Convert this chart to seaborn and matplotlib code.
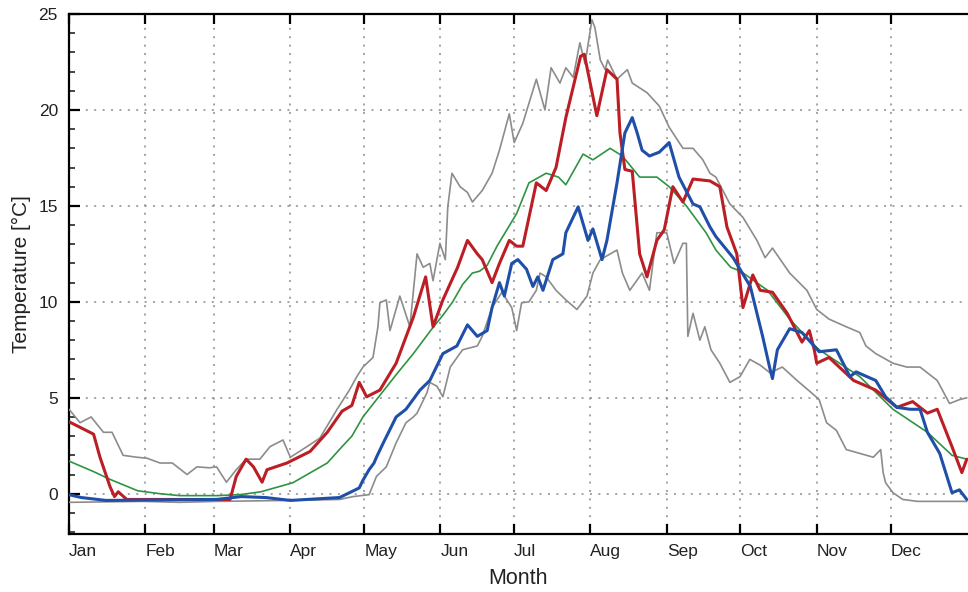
import matplotlib
matplotlib.use("Agg")
import matplotlib.pyplot as plt
from matplotlib.ticker import MultipleLocator, FixedLocator
import numpy as np
import pandas as pd
import seaborn as sns

# ---------------- data ----------------
months = ["Jan", "Feb", "Mar", "Apr", "May", "Jun", "Jul", "Aug", "Sep", "Oct", "Nov", "Dec"]
month_start = [0, 31, 59, 90, 120, 151, 181, 212, 243, 273, 304, 334]

# upper envelope (grey)
upper_pts = [(0, 4.4), (4.5, 3.7), (9, 4.0), (14, 3.2), (17.5, 3.2), (22, 2.0), (27.6, 1.9), (31.7, 1.85),
             (37, 1.6), (42, 1.6), (48, 1.0), (52, 1.4), (57, 1.35), (60, 1.4), (64, 0.6), (68, 1.25),
             (72, 1.8), (77.6, 1.8), (81.7, 2.45), (87, 2.8), (90, 1.9), (96.7, 2.45), (102, 2.9),
             (109, 4.4), (114, 5.4), (117, 6.1), (119.5, 6.6), (123.6, 7.1), (125.6, 8.7), (126.4, 9.95),
             (129, 10.1), (130.5, 8.5), (134.5, 10.3), (138.6, 8.7), (141.5, 12.5), (144, 11.8),
             (146.7, 12.0), (148, 11.1), (150.8, 13.05), (153, 12.2), (154, 14.95), (155.7, 16.7),
             (159, 16.0), (162, 15.7), (164, 15.2), (168, 15.8), (172, 16.7), (175, 17.9), (179, 19.8),
             (181, 18.3), (184.5, 19.3), (190, 21.6), (193.5, 20.0), (196, 22.2), (199.6, 21.4),
             (202, 22.2), (205, 21.7), (207.7, 23.5), (209.8, 22.4), (212.6, 24.7), (213.8, 24.3),
             (216, 22.6), (218, 22.1), (219, 22.6), (222.8, 21.6), (227, 22.1), (229, 21.4), (235, 20.9),
             (240, 20.2), (244, 19.1), (249.6, 18.0), (253.7, 18.0), (257.7, 17.4), (260.6, 16.7),
             (263, 16.5), (268.7, 15.1), (274, 14.4), (279.7, 13.2), (283, 12.3), (286, 12.8), (293, 11.5),
             (300, 10.6), (304, 9.6), (309, 9.1), (316, 8.7), (321.5, 8.4), (324, 7.7), (328, 7.3),
             (335, 6.8), (340.6, 6.6), (346, 6.6), (353, 5.9), (358, 4.7), (362, 4.9), (365, 5.0)]

# lower envelope (grey)
lower_pts = [(0, -0.45), (30, -0.4), (45, -0.45), (60, -0.4), (90, -0.35), (110, -0.3), (115.5, -0.15),
             (122, -0.05), (125, 0.9), (129, 1.4), (133, 2.65), (137, 3.7), (140, 4.0), (141.5, 4.2),
             (145.5, 5.25), (146.7, 5.8), (149.6, 5.6), (152, 5.05), (155, 6.6), (160, 7.5), (166, 7.7),
             (168, 8.2), (172, 9.7), (176, 10.5), (180, 9.7), (182, 8.5), (184, 9.95), (187, 10.0),
             (190, 10.6), (191.5, 11.5), (194, 11.3), (198, 10.6), (202, 10.1), (206.5, 9.6),
             (210.6, 10.3), (213, 11.5), (216, 12.2), (222.8, 12.7), (225, 11.5), (228, 10.6), (233, 11.5),
             (236, 10.6), (239, 13.6), (243, 13.6), (246, 12.0), (249.6, 13.05), (251, 13.05),
             (251.6, 8.2), (253.7, 9.4), (256.5, 8.0), (258.5, 8.7), (261, 7.5), (264.6, 6.8),
             (268.7, 5.8), (272.8, 6.1), (276.8, 7.0), (281, 6.7), (285, 6.3), (290, 6.6), (296, 5.9),
             (302.4, 5.2), (305, 4.9), (308, 3.7), (312, 3.3), (316, 2.3), (321.5, 2.1), (327, 1.9),
             (330, 2.3), (331, 1.1), (332, 0.57), (335, 0.05), (339, -0.3), (345, -0.4), (365, -0.4)]

# mean (green)
mean_pts = [(0, 1.7), (10, 1.15), (17, 0.73), (28, 0.15), (37, 0.0), (45, -0.1), (60, -0.1), (69.5, -0.05),
            (78, 0.1), (91, 0.57), (105, 1.6), (111, 2.45), (115, 3.0), (119.5, 4.0), (125, 4.9),
            (133, 6.2), (140, 7.3), (147, 8.5), (152, 9.3), (156, 10.0), (160, 10.9), (164, 11.5),
            (167, 11.6), (170, 11.9), (174, 12.9), (182, 14.6), (187, 16.2), (194, 16.7), (199, 16.5),
            (202, 16.1), (209, 17.7), (213, 17.4), (220, 18.0), (225, 17.6), (232, 16.5), (239, 16.5),
            (244, 16.0), (251, 15.0), (259, 13.6), (263, 12.7), (269, 11.8), (273, 11.6), (284, 10.6),
            (293, 9.1), (301, 8.0), (305, 7.5), (321.5, 6.1), (335, 4.4), (349, 3.2), (359, 2.0),
            (365, 1.8)]

# year A (red)
red_pts = [(0, 3.75), (8.5, 3.2), (10, 3.1), (12.6, 1.9), (16.7, 0.36), (18.5, -0.15), (20, 0.1),
           (23.5, -0.3), (65.5, -0.3), (68, 0.9), (72, 1.8), (75, 1.4), (78.5, 0.6), (80.5, 1.25),
           (88.6, 1.6), (98, 2.2), (105, 3.2), (111, 4.3), (115, 4.6), (118, 5.8), (121, 5.05),
           (126.4, 5.4), (133, 6.8), (140, 9.2), (145, 11.3), (148, 8.7), (152, 10.1), (158, 11.8),
           (162, 13.2), (166, 12.5), (168, 12.2), (172, 11.0), (175, 12.0), (179, 13.2), (182, 12.9),
           (184.5, 12.9), (187, 14.4), (190, 16.2), (194, 15.8), (198, 17.0), (202, 19.6), (208, 22.8),
           (209.5, 22.9), (214.6, 19.7), (218.7, 22.1), (222.8, 21.6), (224, 18.8), (226, 16.9),
           (229, 16.8), (232, 12.5), (235, 11.3), (239, 13.2), (242, 13.75), (245.5, 16.0),
           (249.6, 15.2), (253.7, 16.4), (260.6, 16.3), (264.6, 16.0), (267.5, 13.9), (271.5, 12.5),
           (274, 9.7), (278, 11.4), (281, 10.6), (286, 10.5), (292, 9.4), (296, 8.4), (298, 7.9),
           (301, 8.5), (303, 7.5), (304, 6.8), (309, 7.1), (319, 5.9), (328, 5.4), (336.6, 4.5),
           (343, 4.8), (349, 4.2), (353, 4.4), (359, 2.45), (363, 1.1), (365, 1.8)]

# year B (blue)
blue_pts = [(0, -0.05), (5, -0.2), (15, -0.35), (60, -0.3), (70, -0.15), (80, -0.2), (90, -0.35),
            (110, -0.2), (114, 0.05), (118, 0.3), (119.5, 0.7), (122, 1.25), (124, 1.6), (125, 1.9),
            (127.6, 2.6), (133, 4.0), (137, 4.4), (142.7, 5.4), (146.7, 5.9), (152, 7.3), (157.7, 7.7),
            (162, 8.8), (166, 8.2), (170, 8.5), (172, 9.7), (175, 11.0), (177, 10.3), (180, 12.0),
            (182.5, 12.2), (186, 11.7), (188.6, 10.8), (190.6, 11.3), (192.7, 10.6), (196.7, 12.2),
            (200.8, 12.5), (202, 13.6), (207, 14.95), (211, 13.2), (213, 13.8), (216.7, 12.2),
            (218.7, 13.2), (222.8, 16.2), (226, 18.8), (229, 19.6), (231, 18.8), (233, 17.9),
            (236, 17.6), (240, 17.8), (244, 18.3), (248, 16.5), (253.7, 15.1), (256.5, 14.95),
            (260.6, 13.9), (263, 13.4), (270, 12.3), (277, 10.8), (282, 8.2), (285, 6.5), (286, 6.0),
            (288, 7.5), (293, 8.6), (298, 8.4), (305, 7.4), (312, 7.5), (317.5, 6.1), (320, 6.35),
            (328, 5.9), (332, 5.05), (336.6, 4.5), (342, 4.4), (346, 4.4), (349, 3.2), (354, 2.1),
            (359, 0.05), (362, 0.2), (365, -0.3)]

# ---------------- plotting ----------------
sns.set_style("ticks")
plt.rcParams["font.family"] = ["Liberation Sans", "DejaVu Sans"]

fig = plt.figure(figsize=(9.68, 5.92), dpi=100)
ax = fig.add_axes([69 / 968, 58 / 592, 899 / 968, 520 / 592])


def to_df(pts):
    d, t = zip(*pts)
    return pd.DataFrame({"day": d, "temp": t})


series = [
    (upper_pts, "#8c8c8c", 1.2),
    (lower_pts, "#8c8c8c", 1.2),
    (mean_pts, "#2e9442", 1.2),
    (red_pts, "#bb1e24", 2.2),
    (blue_pts, "#1f4fa8", 2.2),
]
for pts, col, lw in series:
    sns.lineplot(data=to_df(pts), x="day", y="temp", ax=ax, color=col, linewidth=lw,
                 sort=False, estimator=None, zorder=3)

ax.set_xlim(0, 365.5)
ax.set_ylim(-2.1, 25)

ax.xaxis.set_major_locator(FixedLocator(month_start))
ax.set_xticklabels(months, ha="left", fontsize=12.5, color="#222222")
ax.yaxis.set_major_locator(MultipleLocator(5))
ax.yaxis.set_minor_locator(MultipleLocator(1))
ax.tick_params(axis="y", labelsize=12.5, labelcolor="#222222")

ax.tick_params(axis="x", which="major", direction="in", length=7, width=1.6, top=True, bottom=True,
               pad=7, colors="black")
ax.tick_params(axis="x", labelcolor="#222222")
ax.tick_params(axis="y", which="major", direction="in", length=8, width=1.6, left=True, right=False,
               pad=8, colors="black")
ax.tick_params(axis="y", labelcolor="#222222")
ax.tick_params(axis="y", which="minor", direction="in", length=4, width=1.2, left=True, right=False)

ax.grid(True, which="major", axis="both", color="#8a8a8a", linestyle=(0, (1.3, 4.2)), linewidth=1.1,
        zorder=1)

for side in ["left", "top", "bottom"]:
    ax.spines[side].set_linewidth(1.6)
    ax.spines[side].set_color("black")
ax.spines["right"].set_visible(False)

ax.set_xlabel("Month", fontsize=15.5, labelpad=7, color="#222222")
ax.set_ylabel("Temperature [°C]", fontsize=15, labelpad=5, color="#222222")

fig.savefig("out.png", dpi=100)
